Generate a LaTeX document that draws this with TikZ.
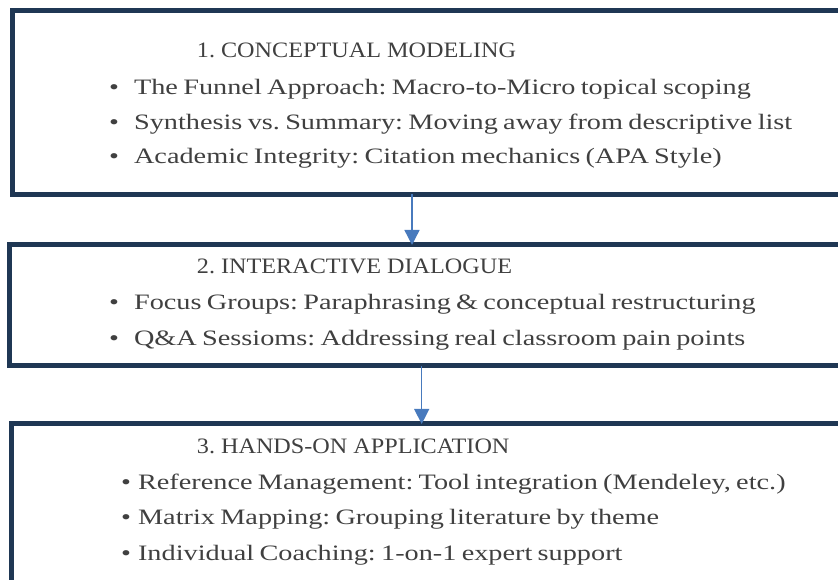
\documentclass[tikz,border=0pt]{standalone}
\usepackage{fontspec}
\setmainfont{Liberation Serif}[FakeStretch=1.285,WordSpace=0.75]
\newfontfamily\headfont{Liberation Serif}[FakeStretch=1.1]
\usetikzlibrary{arrows.meta}
\frenchspacing

\definecolor{boxnavy}{RGB}{31,55,84}
\definecolor{flowblue}{RGB}{72,122,189}
\definecolor{inkgray}{RGB}{64,64,64}

\tikzset{
	stage/.style={draw=boxnavy, line width=5pt, anchor=north west, inner sep=0pt, outer sep=0pt},
	head/.style={anchor=base west, text=inkgray, inner sep=0pt, font=\headfont\fontsize{22}{26}\selectfont},
	item/.style={anchor=base west, text=inkgray, inner sep=0pt, font=\fontsize{22}{26}\selectfont},
	flow/.style={draw=flowblue, line width=1.4pt, -{Triangle[width=15pt,length=15pt]}}
}

\begin{document}
\begin{tikzpicture}[x=1pt,y=1pt]
	\useasboundingbox (0,0) rectangle (838,580);
	\clip (0,0) rectangle (838,580);

	\node[stage, minimum width=850pt, minimum height=184pt] (box1) at (12.5,569.5) {};
	\node[stage, minimum width=850pt, minimum height=120.8pt] (box2) at (9.8,335) {};
	\node[stage, minimum width=850pt, minimum height=200pt] (box3) at (11.8,156) {};

	\coordinate (c1) at (412,0);
	\coordinate (c2) at (421.7,0);
	\draw [flow] (c1 |- box1.south) -- (c1 |- box2.north);
	\draw [flow] (c2 |- box2.south) -- (c2 |- box3.north);

	% stage 1
	\node[head] (h1) at (196.7,522.5) {1. CONCEPTUAL MODELING};
	\node[item] (i11) at (109,485.7) {\textbullet\hspace{15pt}The Funnel Approach: Macro-to-Micro topical scoping};
	\node[item] (i12) at (109,450.7) {\textbullet\hspace{15pt}Synthesis vs. Summary: Moving away from descriptive list};
	\node[item] (i13) at (109,416.7) {\textbullet\hspace{15pt}Academic Integrity: Citation mechanics (APA Style)};

	% stage 2
	\node[head] (h2) at (196.7,306) {2. INTERACTIVE DIALOGUE};
	\node[item] (i21) at (109,270) {\textbullet\hspace{15pt}Focus Groups: Paraphrasing \& conceptual restructuring};
	\node[item] (i22) at (109,234.3) {\textbullet\hspace{15pt}Q\&A Sessioms: Addressing real classroom pain points};

	% stage 3
	\node[head] (h3) at (196.7,126.7) {3. HANDS-ON APPLICATION};
	\node[item] (i31) at (121,90) {\textbullet\hspace{7pt}Reference Management: Tool integration (Mendeley, etc.)};
	\node[item] (i32) at (121,55) {\textbullet\hspace{7pt}Matrix Mapping: Grouping literature by theme};
	\node[item] (i33) at (121,19.3) {\textbullet\hspace{7pt}Individual Coaching: 1-on-1 expert support};
\end{tikzpicture}
\end{document}
